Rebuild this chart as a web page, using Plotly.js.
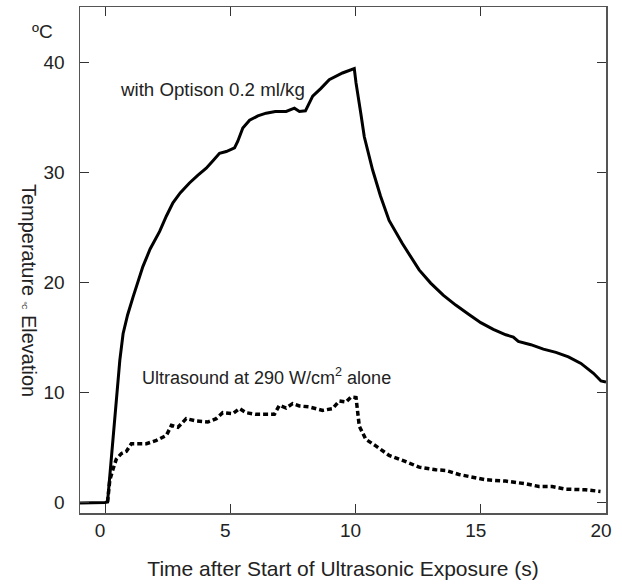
<!DOCTYPE html>
<html>
<head>
<meta charset="utf-8">
<script src="https://cdn.plot.ly/plotly-3.0.1.min.js"></script>
<style>html,body{margin:0;padding:0;background:#fff;}#chart{width:622px;height:585px;}</style>
</head>
<body>
<div id="chart"></div>
<script>
// Time (s) and temperature elevation (ºC) with Optison 0.2 ml/kg
const timeOptison = [-1, -0.5, 0, 0.1, 0.52, 0.59, 0.72, 0.9, 1.12, 1.3, 1.51, 1.8, 2.18, 2.45, 2.71, 3.0, 3.37, 3.7, 4.04, 4.3, 4.57, 4.84, 5.17, 5.3, 5.5, 5.77, 6.1, 6.43, 6.8, 7.23, 7.56, 7.76, 8.0, 8.29, 8.62, 8.95, 9.2, 9.48, 9.95, 10.02, 10.21, 10.35, 10.68, 11.0, 11.34, 11.87, 12.54, 13.0, 13.5, 14.0, 14.5, 15.0, 15.5, 16.0, 16.3, 16.5, 17.0, 17.5, 18.0, 18.5, 19.0, 19.5, 19.8, 20.0];
const tempOptison = [-0.1, -0.1, -0.05, 0, 11.1, 12.9, 15.3, 17.0, 18.65, 20.0, 21.4, 23.0, 24.6, 26.0, 27.2, 28.1, 29.0, 29.7, 30.35, 31.0, 31.7, 31.86, 32.2, 32.8, 34.0, 34.7, 35.1, 35.35, 35.5, 35.5, 35.8, 35.5, 35.56, 36.9, 37.6, 38.4, 38.7, 39.0, 39.4, 38.1, 35.35, 33.2, 30.2, 27.8, 25.6, 23.5, 21.1, 19.9, 18.8, 17.9, 17.1, 16.3, 15.7, 15.2, 15.0, 14.6, 14.3, 13.9, 13.6, 13.2, 12.6, 11.7, 11.0, 10.9];

// Ultrasound at 290 W/cm2 alone
const timeUS = [0.1, 0.19, 0.32, 0.45, 0.65, 0.85, 1.05, 1.38, 1.65, 2.05, 2.45, 2.65, 2.91, 3.04, 3.24, 3.64, 4.1, 4.44, 4.7, 5.1, 5.37, 5.63, 6.03, 6.76, 6.96, 7.23, 7.49, 7.76, 8.16, 8.69, 9.08, 9.35, 9.62, 9.82, 10.02, 10.15, 10.41, 10.81, 11.34, 11.88, 12.54, 13.2, 13.6, 14.13, 14.66, 15.2, 15.99, 16.79, 17.32, 17.85, 18.38, 19.18, 19.78];
const tempUS = [0, 2.0, 3.0, 3.9, 4.4, 4.6, 5.3, 5.3, 5.3, 5.6, 6.06, 6.97, 6.8, 7.1, 7.58, 7.36, 7.27, 7.58, 8.12, 8.03, 8.49, 8.12, 7.97, 7.97, 8.79, 8.54, 8.94, 8.73, 8.64, 8.33, 8.49, 9.18, 9.09, 9.54, 9.49, 6.9, 5.7, 5.1, 4.24, 3.78, 3.17, 2.93, 2.87, 2.5, 2.26, 2.02, 1.9, 1.66, 1.41, 1.41, 1.17, 1.11, 0.96];

const xTicks = [0, 5, 10, 15, 20];
const yTicks = [0, 10, 20, 30, 40];

const FONT = 'Liberation Sans, Arial, sans-serif';

const traces = [
  {x: timeUS, y: tempUS, type: 'scatter', mode: 'lines',
   line: {color: '#000', width: 3.5, dash: '5px,3px'}, hoverinfo: 'skip'},
  {x: timeOptison, y: tempOptison, type: 'scatter', mode: 'lines',
   line: {color: '#000', width: 3}, hoverinfo: 'skip'}
];

const axisCommon = {
  showgrid: false, zeroline: false, showline: true, linecolor: '#555', linewidth: 1.5,
  mirror: 'ticks', ticks: 'inside', ticklen: 9, tickwidth: 1, tickcolor: '#333',
  tickfont: {family: FONT, size: 19, color: '#222'}, tickmode: 'array'
};

const layout = {
  width: 622, height: 585,
  margin: {l: 80, r: 16, t: 7, b: 72},
  paper_bgcolor: '#fff', plot_bgcolor: '#fff',
  showlegend: false,
  font: {family: FONT, size: 19, color: '#222'},
  xaxis: Object.assign({}, axisCommon, {
    range: [-1, 20], tickvals: xTicks, ticktext: xTicks.map(String),
    ticklabelstandoff: 0, ticklabelshift: -5,
    title: {text: 'Time after Start of Ultrasonic Exposure (s)', font: {family: FONT, size: 21, color: '#222'}, standoff: 21}
  }),
  yaxis: Object.assign({}, axisCommon, {
    range: [-1, 45], tickvals: yTicks, ticktext: yTicks.map(String),
    ticklabelstandoff: 10
  }),
  annotations: [
    {xref: 'paper', yref: 'paper', x: -0.072, y: 0.951, text: 'ºC', showarrow: false,
     xanchor: 'center', yanchor: 'middle', font: {family: FONT, size: 19, color: '#222'}},
    {xref: 'paper', yref: 'paper', x: -0.097, y: 0.439,
     text: 'Temperature <span style="font-size:7px">ºC</span> Elevation', showarrow: false,
     textangle: 90, xanchor: 'center', yanchor: 'middle', font: {family: FONT, size: 20, color: '#222'}},
    {xref: 'x', yref: 'y', x: 0.5, y: 37.5, text: 'with Optison 0.2 ml/kg', showarrow: false,
     xanchor: 'left', yanchor: 'middle', font: {family: FONT, size: 18.7, color: '#222'}},
    {xref: 'x', yref: 'y', x: 1.39, y: 11.4, text: 'Ultrasound at 290 W/cm<sup>2</sup> alone', showarrow: false,
     xanchor: 'left', yanchor: 'middle', font: {family: FONT, size: 18, color: '#222'}}
  ]
};

Plotly.newPlot('chart', traces, layout, {staticPlot: true, displayModeBar: false});
</script>
</body>
</html>
